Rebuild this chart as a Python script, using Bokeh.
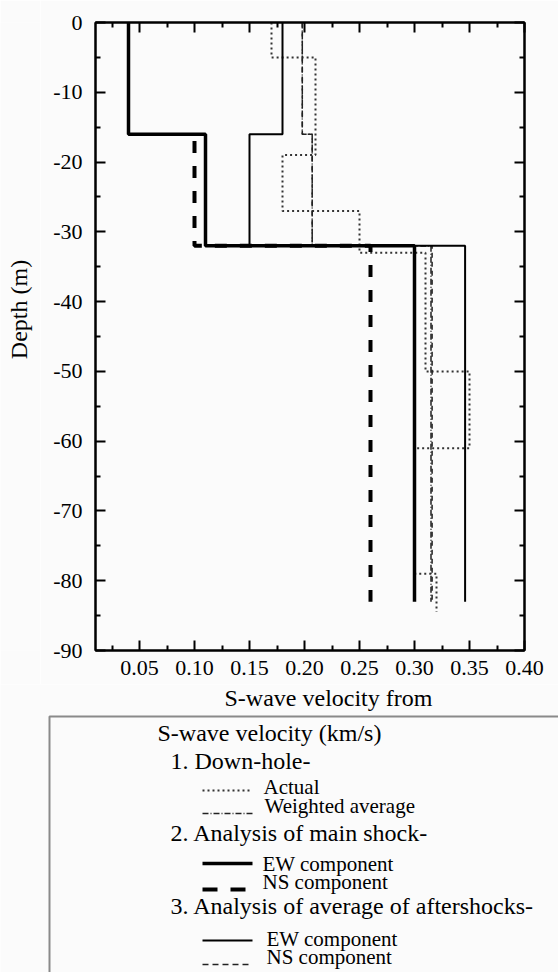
import math
from bokeh.plotting import figure
from bokeh.layouts import row
from bokeh.models import (LinearAxis, FixedTicker, CustomJSTickFormatter, Range1d)
from bokeh.embed import file_html
from bokeh.resources import INLINE
from bokeh.core.properties import value

FONT = "Liberation Serif"
BG = "#fbfbfb"

# ---------------- data ----------------
x_ticks = [0.05, 0.10, 0.15, 0.20, 0.25, 0.30, 0.35, 0.40]
x_minor = [0.025, 0.075, 0.125, 0.175, 0.225, 0.275, 0.325, 0.375]
y_ticks = [0, -10, -20, -30, -40, -50, -60, -70, -80, -90]
y_minor = [-5, -15, -25, -35, -45, -55, -65, -75, -85]

# layer boundaries (m) and layer velocity (km/s)
actual_depth = [0, -5, -19, -27, -33, -50, -61, -79, -84.5]
actual_vel = [0.17, 0.21, 0.18, 0.25, 0.31, 0.35, 0.30, 0.32]
weighted_depth = [0, -16, -32, -83]
weighted_vel = [0.198, 0.207, 0.315]
main_ew_depth = [0, -16, -32, -83]
main_ew_vel = [0.04, 0.11, 0.30]
main_ns_depth = [-17, -32, -83]
main_ns_vel = [0.10, 0.26]
after_ew_depth = [0, -16, -32, -83]
after_ew_vel = [0.18, 0.15, 0.346]
after_ns_depth = [0, -16, -32, -83]
after_ns_vel = [0.198, 0.207, 0.316]

x_title = "S-wave velocity from"
y_title = "Depth (m)"
legend_title = "S-wave velocity (km/s)"
legend_heads = ["1. Down-hole-", "2. Analysis of main shock-",
                "3. Analysis of average of aftershocks-"]
legend_items = ["Actual", "Weighted average", "EW component", "NS component",
                "EW component", "NS component"]


def steps(depth, vel):
    xs, ys = [], []
    for i, v in enumerate(vel):
        xs += [v, v]
        ys += [depth[i], depth[i + 1]]
    return xs, ys


TOP_H = 684
FRAME_TOP = 22
FRAME_BOTTOM = 650
LAB_W = 40

# ---------------- y title strip ----------------
ylab = figure(width=LAB_W, height=TOP_H, x_range=Range1d(0, LAB_W),
              y_range=Range1d(FRAME_BOTTOM, FRAME_TOP),
              output_backend="svg", toolbar_location=None, title=None,
              x_axis_location=None, y_axis_location=None,
              min_border_left=0, min_border_right=0, min_border_top=FRAME_TOP,
              min_border_bottom=TOP_H - FRAME_BOTTOM,
              background_fill_color=BG, border_fill_color=BG, outline_line_color=None)
ylab.grid.visible = False
ylab.text(x=[18], y=[309], text=[y_title], angle=math.pi / 2, text_font=value(FONT),
          text_font_size="24px", text_align="center", text_baseline="middle",
          text_color="black")

# ---------------- main plot ----------------
p = figure(width=558 - LAB_W, height=TOP_H, x_range=Range1d(0.01, 0.40),
           y_range=Range1d(-90, 0),
           output_backend="svg", toolbar_location=None, title=None,
           min_border_left=95 - LAB_W, min_border_right=34, min_border_top=FRAME_TOP,
           min_border_bottom=TOP_H - FRAME_BOTTOM,
           background_fill_color=BG, border_fill_color=BG,
           outline_line_color="black", outline_line_width=2)
p.grid.visible = False

blank = CustomJSTickFormatter(code="return '';")


def style_axis(ax, labels=True):
    ax.axis_line_color = "black"
    ax.axis_line_width = 2
    ax.major_tick_in = 10
    ax.major_tick_out = 0
    ax.minor_tick_in = 5
    ax.minor_tick_out = 0
    ax.major_tick_line_color = "black"
    ax.major_tick_line_width = 2
    ax.minor_tick_line_color = "black"
    ax.minor_tick_line_width = 2
    ax.major_label_text_font = FONT
    ax.major_label_text_font_size = "22px"
    ax.major_label_text_color = "black"
    if not labels:
        ax.formatter = blank
        ax.major_label_standoff = 0


bx = p.xaxis[0]
bx.ticker = FixedTicker(ticks=x_ticks, minor_ticks=x_minor)
bx.formatter = CustomJSTickFormatter(code="return tick.toFixed(2);")
style_axis(bx)
bx.major_label_standoff = 10

ly = p.yaxis[0]
ly.ticker = FixedTicker(ticks=y_ticks, minor_ticks=y_minor)
ly.formatter = CustomJSTickFormatter(code="return tick.toFixed(0);")
style_axis(ly)
ly.major_label_standoff = 13

tx = LinearAxis(ticker=FixedTicker(ticks=x_ticks, minor_ticks=x_minor))
style_axis(tx, labels=False)
p.add_layout(tx, "above")

ry = LinearAxis(ticker=FixedTicker(ticks=y_ticks, minor_ticks=y_minor))
style_axis(ry, labels=False)
p.add_layout(ry, "right")

xs, ys = steps(actual_depth, actual_vel)
p.line(xs, ys, line_color="#333333", line_width=2, line_dash="2 3")
xs, ys = steps(weighted_depth, weighted_vel)
p.line(xs, ys, line_color="#222222", line_width=1.5, line_dash="6 2 1 2")
xs, ys = steps(after_ns_depth, after_ns_vel)
p.line(xs, ys, line_color="#222222", line_width=1.5, line_dash="5 4")
xs, ys = steps(after_ew_depth, after_ew_vel)
p.line(xs, ys, line_color="black", line_width=2)
xs, ys = steps(main_ns_depth, main_ns_vel)
p.line(xs, ys, line_color="black", line_width=4, line_dash="12 13")
xs, ys = steps(main_ew_depth, main_ew_vel)
p.line(xs, ys, line_color="black", line_width=3.5)

top = row(ylab, p, spacing=0)

# ---------------- lower panel: x title + legend ----------------
q = figure(width=558, height=972 - TOP_H, x_range=Range1d(0, 558),
           y_range=Range1d(972, TOP_H),
           output_backend="svg", toolbar_location=None, title=None,
           x_axis_location=None, y_axis_location=None,
           min_border_left=0, min_border_right=0, min_border_top=0, min_border_bottom=0,
           background_fill_color=BG, border_fill_color=BG, outline_line_color=None)
q.grid.visible = False

q.text(x=[224], y=[697.5], text=[x_title], text_font=value(FONT),
       text_font_size="24px", text_baseline="middle", text_color="black")

q.quad(left=[49], right=[620], top=[716], bottom=[1010], fill_color=None,
       line_color="#8a8a8a", line_width=2)

q.text(x=[157], y=[732], text=[legend_title], text_font=value(FONT),
       text_font_size="24px", text_baseline="middle", text_color="black")
q.text(x=[170, 170, 170], y=[760, 832, 905], text=legend_heads, text_font=value(FONT),
       text_font_size="24px", text_baseline="middle", text_color="black")
q.text(x=[263, 264, 262, 262, 266, 266], y=[786, 805, 863, 881, 938, 956],
       text=legend_items, text_font=value(FONT), text_font_size="21px",
       text_baseline="middle", text_color="black")

sx = [202, 252]
q.line(sx, [790, 790], line_color="#333333", line_width=2, line_dash="2 3")
q.line(sx, [813, 813], line_color="#222222", line_width=1.5, line_dash="6 2 1 2")
q.line(sx, [863, 863], line_color="black", line_width=3.5)
q.line([202, 246], [889, 889], line_color="black", line_width=4, line_dash="15 13")
q.line(sx, [940, 940], line_color="black", line_width=2)
q.line(sx, [964, 964], line_color="#222222", line_width=1.5, line_dash="6 4")

open("out.html", "w").write(file_html([top, q], INLINE))
